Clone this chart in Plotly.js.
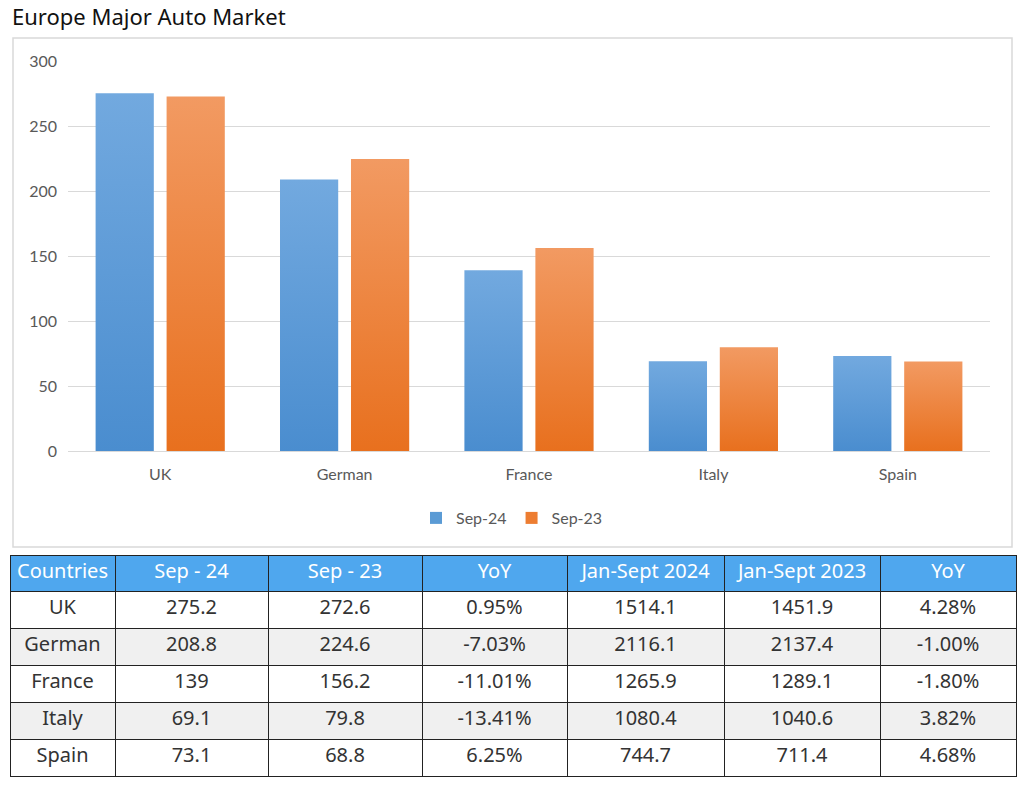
<!DOCTYPE html>
<html>
<head>
<meta charset="utf-8">
<script src="https://cdn.plot.ly/plotly-3.0.1.min.js"></script>
<style>
  html, body { margin: 0; padding: 0; background: #fff; }
  #chart { width: 1024px; height: 785px; }
</style>
</head>
<body>
<div id="chart"></div>
<script>
// --- datos ---
const countries = ['UK', 'German', 'France', 'Italy', 'Spain'];
const sep24 = [275.2, 208.8, 139, 69.1, 73.1];
const sep23 = [272.6, 224.6, 156.2, 79.8, 68.8];
const yoyMonth = [0.95, -7.03, -11.01, -13.41, 6.25];
const ytd2024 = [1514.1, 2116.1, 1265.9, 1080.4, 744.7];
const ytd2023 = [1451.9, 2137.4, 1289.1, 1040.6, 711.4];
const yoyYtd = [4.28, -1.00, -1.80, 3.82, 4.68];
const tableHeader = ['Countries', 'Sep - 24', 'Sep - 23', 'YoY', 'Jan-Sept 2024', 'Jan-Sept 2023', 'YoY'];
const yTicks = [0, 50, 100, 150, 200, 250, 300];

const W = 1024, H = 785;
const px = x => x / W;
const py = y => 1 - y / H;

const textFont = '"Noto Sans", "Open Sans", sans-serif';
const latin = 'Lato, "Open Sans", sans-serif';

const pct = v => v.toFixed(2) + '%';

// barras
const traceSep24 = {
  type: 'bar',
  name: 'Sep-24',
  x: countries,
  y: sep24,
  marker: { color: '#5B9BD5' },
  hoverinfo: 'x+y'
};

const traceSep23 = {
  type: 'bar',
  name: 'Sep-23',
  x: countries,
  y: sep23,
  marker: { color: '#ED7D31' },
  hoverinfo: 'x+y'
};

// tabla de abajo
const rowFill = countries.map((c, i) => i % 2 === 1 ? '#F0F0F0' : '#FFFFFF');

const traceTable = {
  type: 'table',
  domain: { x: [px(10), px(1016)], y: [py(779), py(555)] },
  columnwidth: [105, 153, 154, 145, 157, 156, 136],
  header: {
    values: tableHeader,
    align: 'center',
    height: 36,
    fill: { color: '#4FA7EE' },
    line: { color: '#222', width: 1 },
    font: { family: textFont, size: 20, color: '#FFFFFF' }
  },
  cells: {
    values: [
      countries,
      sep24,
      sep23,
      yoyMonth.map(pct),
      ytd2024,
      ytd2023,
      yoyYtd.map(pct)
    ],
    align: 'center',
    height: 37,
    fill: { color: [rowFill] },
    line: { color: '#222', width: 1 },
    font: { family: textFont, size: 20, color: '#333333' }
  }
};

const layout = {
  width: W,
  height: H,
  margin: { l: 0, r: 0, t: 0, b: 0 },
  paper_bgcolor: '#FFFFFF',
  plot_bgcolor: '#FFFFFF',
  showlegend: true,
  barmode: 'group',
  bargap: 0.23,
  bargroupgap: 0.18,
  title: {
    text: 'Europe Major Auto Market',
    x: px(12), xanchor: 'left',
    y: py(17), yanchor: 'middle',
    font: { family: textFont, size: 22, color: '#111111' }
  },
  xaxis: {
    domain: [px(68), px(990)],
    showgrid: false,
    showline: true,
    linecolor: '#D9D9D9',
    ticks: '',
    ticklabelstandoff: 9,
    tickfont: { family: latin, size: 16, color: '#595959' },
    fixedrange: true
  },
  yaxis: {
    domain: [py(451), py(61)],
    range: [0, 300],
    tickvals: yTicks,
    showgrid: true,
    gridcolor: '#D9D9D9',
    zeroline: false,
    showline: false,
    ticks: '',
    ticklabelstandoff: 10,
    tickfont: { family: latin, size: 16, color: '#595959' },
    fixedrange: true
  },
  legend: {
    orientation: 'h',
    x: 0.5, xanchor: 'center',
    y: py(518), yanchor: 'middle',
    font: { family: latin, size: 16, color: '#595959' },
    itemwidth: 30,
    traceorder: 'normal'
  },
  shapes: [{
    type: 'rect',
    xref: 'paper', yref: 'paper',
    x0: px(13), x1: px(1012),
    y0: py(547), y1: py(38),
    line: { color: '#D9D9D9', width: 1.5 },
    fillcolor: 'rgba(0,0,0,0)',
    layer: 'below'
  }],
  hovermode: 'closest'
};

// degradado vertical en las barras (como en el original de Excel)
function addGradients(gd) {
  const svg = gd.querySelector('.main-svg');
  const ns = 'http://www.w3.org/2000/svg';
  let defs = svg.querySelector('defs');
  const grads = [
    { id: 'gradBlue', top: '#72A9DF', bottom: '#4A8DCF' },
    { id: 'gradOrange', top: '#F29A62', bottom: '#E8701E' }
  ];
  grads.forEach(g => {
    if (svg.querySelector('#' + g.id)) return;
    const lg = document.createElementNS(ns, 'linearGradient');
    lg.setAttribute('id', g.id);
    lg.setAttribute('x1', '0'); lg.setAttribute('y1', '0');
    lg.setAttribute('x2', '0'); lg.setAttribute('y2', '1');
    [['0', g.top], ['1', g.bottom]].forEach(([o, c]) => {
      const st = document.createElementNS(ns, 'stop');
      st.setAttribute('offset', o);
      st.setAttribute('stop-color', c);
      lg.appendChild(st);
    });
    defs.appendChild(lg);
  });
  const traces = gd.querySelectorAll('.barlayer .trace.bars');
  traces.forEach((t, i) => {
    const id = i === 0 ? 'gradBlue' : 'gradOrange';
    t.querySelectorAll('.point path').forEach(p => {
      p.style.fill = 'url(#' + id + ')';
    });
  });
}

Plotly.newPlot('chart', [traceSep24, traceSep23, traceTable], layout, { displayModeBar: false })
  .then(gd => addGradients(gd));
</script>
</body>
</html>
